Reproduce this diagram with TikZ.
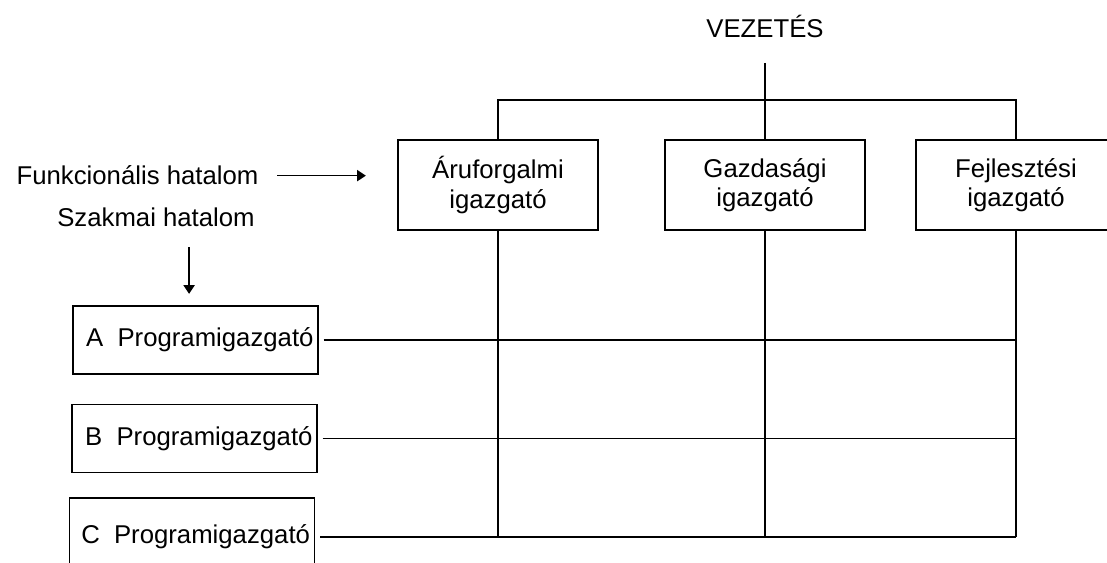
\documentclass[tikz,border=0pt]{standalone}
\usepackage{fontspec}
\setmainfont{Liberation Sans}
\usepackage{tikz}
\usetikzlibrary{positioning, arrows.meta}

\tikzset{
    unit/.style={draw, line width=1.3pt, minimum width=5cm, minimum height=2.25cm,
        align=center, inner sep=0pt},
    prog/.style={draw, line width=1.3pt, minimum width=6.125cm, minimum height=1.7cm,
        text width=5.9cm, align=right, inner sep=0pt},
    label/.style={inner sep=0pt},
    arr/.style={-{Triangle[length=0.22cm, width=0.28cm]}, line width=1.1pt}
}

\begin{document}
\begin{tikzpicture}[
    x=0.025cm, y=-0.025cm, % one unit per pixel
    line width=1.3pt,
    font=\fontsize{18.3pt}{20.8pt}\selectfont
]
    \useasboundingbox[fill=white] (0,0) rectangle (1107,563);

    % 1. Top of the hierarchy and the three functional directors
    \node[label, anchor=base] (lead) at (765,38) {VEZETÉS};
    \coordinate (leadfoot) at (765,63);
    \coordinate (bus) at (765,100);

    \node[unit] (aru) at (498,185) {Áruforgalmi\\igazgató};
    \node[unit] (gaz) at (765,185) {Gazdasági\\igazgató};
    \node[unit] (fej) at (1016,185) {Fejlesztési\\igazgató};

    % 2. Program directors on the left
    \node[prog] (progA) at (195.5,340) {A\hspace{0.55em}Programigazgató};
    \node[prog] (progB) at (194.5,438.5) {B\hspace{0.55em}Programigazgató};
    \node[prog, minimum height=1.95cm] (progC) at (192,537) {C\hspace{0.55em}Programigazgató};

    % 3. Side labels
    \node[label, anchor=base] (func) at (137.5,185) {Funkcionális hatalom};
    \node[label, anchor=base] (szak) at (156,227) {Szakmai hatalom};

    % 4. Tree from the top
    \draw (leadfoot) -- (gaz.north);
    \draw (aru.north) -- (aru.north |- bus) -- (fej.north |- bus) -- (fej.north);

    % 5. The matrix lines
    \foreach \u in {aru, gaz, fej}
        \draw (\u.south) -- (\u.south |- progC.east);
    \foreach \p in {progA, progB, progC}
        \draw[shorten <=0.12cm] (\p.east) -- (fej.south |- \p.east);

    % 6. Arrows for the two kinds of authority
    \draw[arr, shorten <=0.45cm, shorten >=0.78cm] (func.east) -- (func.east -| aru.west);
    \draw[arr, shorten <=0.48cm, shorten >=0.28cm]
        ([xshift=-0.16cm]progA.north |- szak.south) -- ([xshift=-0.16cm]progA.north);
\end{tikzpicture}
\end{document}
